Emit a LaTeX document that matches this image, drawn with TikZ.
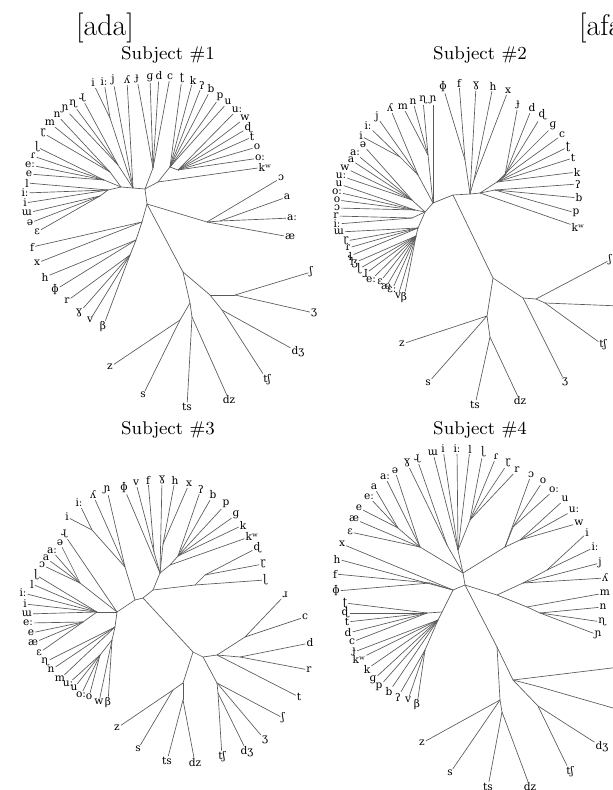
\documentclass[tikz,border=0pt]{standalone}
\usepackage{fontspec}
\newfontfamily\ipafont{DejaVu Serif}

\begin{document}
\begin{tikzpicture}[x=0.5pt,y=-0.5pt,
    br/.style={draw=black!65,line width=0.33pt},
    leaf/.style={font=\ipafont\fontsize{5.3}{6}\selectfont,inner sep=0.4pt},
    subj/.style={font=\fontsize{9.2}{11}\selectfont},
    word/.style={font=\fontsize{15}{18}\selectfont}]
  \useasboundingbox (0,0) rectangle (613,790);
  \clip (0,0) rectangle (613,790);

  \node[word] (ada) at (105,28) {[ada]};
  \node[word,anchor=west] (afa) at (572,28) {[afa]};
  \node[subj] (t1) at (168,55) {Subject \#1};
  \node[subj] (t2) at (480,55) {Subject \#2};
  \node[subj] (t3) at (168,430) {Subject \#3};
  \node[subj] (t4) at (480,430) {Subject \#4};

  % subject 1
  \foreach \n/\x/\y in {a1/147/204, a2/145/189, a3/133/188, a4/121/187, a5/108/190,
      a6/100/196, a7/104/180, a9/118/165, a10/110/172, a11/110/118, a13/153/168,
      a14/170/167, a15/178/170, a16/158/182, b1/142/222, b2/136/240, b3/130/255,
      c1/207/222, c2/220/221, d1/183/272, d2/210/295, d3/235/295, d4/222/310,
      d5/190/303, d6/180/320, d7/192/317}
    \coordinate (\n) at (\x,\y);
  \foreach \a/\b in {a1/a2, a2/a3, a3/a4, a4/a5, a5/a6, a4/a7, a3/a9, a4/a10, a3/a11,
      a2/a13, a2/a16, a16/a14, a14/a15, a1/b1, b1/b2, b2/b3, a1/c1, c1/c2, a1/d1,
      d1/d2, d2/d3, d2/d4, d1/d5, d5/d6, d5/d7}
    \draw[br] (\a) -- (\b);
  \foreach \lab/\x/\y/\p [count=\i] in {
      i/93/83/a11, iː/104/82/a11, j/113/80/a3, ʎ/127/80/a3, ɟ/137/79/a13, ɡ/150/78/a13,
      d/159/76/a13, c/170/77/a13, ʈ/182/78/a14, k/193/80/a14, ʔ/202/85/a14, b/211/89/a14,
      p/220/97/a14, u/228/102/a14, uː/237/110/a15, w/245/118/a15, ɖ/248/128/a15,
      t/252/137/a15, o/257/147/a15, oː/260/158/a15, kʷ/265/167/a16,
      ɻ/82/98/a9, ɳ/73/104/a9, ɲ/65/109/a9, n/57/115/a10, m/50/123/a10, ɽ/43/133/a10,
      ɭ/37/147/a7, ɾ/33/156/a7, eː/30/165/a7, e/29/174/a7, l/27/183/a5, iː/25/193/a5,
      i/25/203/a5, ɯ/27/213/a6, ə/30/223/a6, ɛ/37/232/a6,
      f/32/247/b1, x/37/263/b1, h/45/277/b2, ɸ/55/290/b2, r/67/301/b3, ɣ/79/313/b3,
      v/90/320/b3, β/103/327/b3,
      ɔ/281/178/c1, a/287/197/c2, aː/292/218/c2, æ/290/237/c1,
      ʃ/311/272/d3, ʒ/314/313/d3, dʒ/298/352/d4, tʃ/267/380/d4, z/110/367/d6,
      s/143/395/d6, ts/187/407/d7, dz/229/400/d7}
    {\node[leaf] (A\i) at (\x,\y) {\lab};
     \draw[br] (\p) -- (A\i);}

  % subject 2
  \foreach \n/\x/\y in {e1/453/195, e2/470/194, e3/480/193, e4/465/160, e5/474/180,
      e6/497/182, e7/505/175, e8/495/190, e9/433/203, e10/425/212, e11/428/155,
      e12/400/157, e13/418/175, e14/412/200, e15/415/210, e16/412/218, e17/418/228,
      e18/416/236, g1/493/278, g2/523/298, g3/536/299, g4/545/303, g5/487/316,
      g6/490/337, g7/620/306}
    \coordinate (\n) at (\x,\y);
  \foreach \a/\b in {e1/e2, e2/e3, e4/e2, e5/e2, e7/e6, e6/e3, e8/e3, e1/e9, e9/e10,
      e11/e9, e12/e13, e13/e9, e14/e10, e15/e10, e16/e10, e17/e10, e18/e17, e1/g1,
      g1/g2, g2/g3, g3/g4, g4/g7, g1/g5, g5/g6}
    \draw[br] (\a) -- (\b);
  \foreach \lab/\x/\y/\p [count=\i] in {
      ɸ/443/87/e4, f/459/83/e4, ɣ/476/86/e2, h/493/86/e5, x/508/91/e5, ɟ/518/105/e7,
      d/532/108/e7, ɖ/542/115/e7, ɡ/553/126/e6, c/562/135/e6, ʈ/568/147/e6,
      t/573/158/e6, k/577/172/e6, ʔ/578/184/e8, b/579/198/e8, p/576/213/e8,
      kʷ/578/227/e3,
      ɲ/433/100/e9, ɳ/423/100/e11, n/413/102/e11, m/403/107/e11, ʎ/390/108/e13,
      j/377/117/e13, iː/368/126/e12, i/361/136/e12,
      ə/363/145/e14, aː/355/153/e14, a/351/160/e14, w/345/168/e14, uː/341/176/e14,
      u/339/184/e15, oː/337/192/e15, o/337/200/e15, ɔ/337/208/e15, r/336/216/e16,
      iː/337/224/e16, ɯ/339/232/e17, ɽ/346/241/e17, ɾ/348/248/e17, ɬ/350/256/e17,
      ɮ/354/263/e18, ɭ/359/269/e18, ɺ/365/274/e18, eː/371/280/e18, ɛ/380/282/e18,
      æ/386/287/e18, ɛː/392/290/e18, v/398/296/e18, β/404/298/e18,
      ʃ/610/260/g3, ʒ/565/382/g2, tʃ/603/345/g4, z/402/344/g5, s/428/383/g5,
      ts/475/405/g6, dz/520/401/g6}
    {\node[leaf] (B\i) at (\x,\y) {\lab};
     \draw[br] (\p) -- (B\i);}

  % subject 3
  \foreach \n/\x/\y in {h1/135/600, h2/143/598, h3/153/590, h5/160/573, h6/170/565,
      h7/195/585, h8/205/575, h9/154/552, h10/163/544, h11/178/556, h12/125/567,
      h13/92/530, h14/117/612, h15/80/583, h16/97/612, h17/83/622, h18/115/627,
      h19/112/640, h20/100/655, i1/193/652, i2/203/657, i3/217/655, i4/245/637,
      i5/240/657, i6/217/683, i7/218/693, i8/183/683, i9/173/690, i10/183/700}
    \coordinate (\n) at (\x,\y);
  \foreach \a/\b in {h1/h2, h2/h3, h3/h5, h5/h6, h3/h7, h7/h8, h9/h5, h10/h5, h11/h6,
      h12/h1, h13/h12, h14/h1, h15/h14, h16/h14, h17/h16, h18/h14, h19/h18, h20/h19,
      h2/i1, i1/i2, i2/i3, i3/i4, i3/i5, i2/i6, i6/i7, i1/i8, i8/i9, i8/i10}
    \draw[br] (\a) -- (\b);
  \foreach \lab/\x/\y/\p [count=\i] in {
      ʎ/93/495/h12, ɲ/107/490/h12, ɸ/124/488/h5, v/136/483/h9, f/148/480/h9,
      ɣ/162/480/h5, h/175/480/h10, x/189/484/h10, ʔ/201/489/h11, b/213/495/h11,
      p/226/504/h11, ɡ/236/515/h11, k/243/525/h11, kʷ/252/536/h6, ɖ/257/548/h8,
      ɽ/263/564/h8, ɭ/265/580/h7,
      iː/79/503/h13, i/67/517/h13, ɻ/64/534/h14, ə/60/543/h15, aː/52/551/h15,
      a/46/558/h15, ɔ/42/565/h15, ɭ/36/575/h16, l/32/584/h16, iː/23/593/h16,
      i/25/604/h16, ɯ/27/614/h16, eː/28/623/h17, e/31/633/h17, æ/33/643/h17,
      ɛ/39/653/h17, ɳ/45/662/h18, n/51/670/h18, m/60/679/h18, uː/68/684/h20,
      u/74/688/h20, oː/81/695/h20, o/89/697/h20, w/99/702/h19, β/108/703/h19,
      ɹ/285/595/i4, c/305/617/i4, d/310/643/i5, r/309/670/i5, t/299/697/i3,
      ʃ/283/718/i6, ʒ/265/740/i6, dʒ/247/752/i7, tʃ/222/757/i7, dz/195/763/i10,
      ts/167/761/i10, s/138/749/i9, z/117/728/i9}
    {\node[leaf] (C\i) at (\x,\y) {\lab};
     \draw[br] (\p) -- (C\i);}

  % subject 4
  \foreach \n/\x/\y in {j1/463/573, j2/465/585, j3/458/550, j5/470/520, j6/447/545,
      j7/420/547, j8/398/528, j10/505/547, j11/513/527, j12/520/540, j13/497/595,
      j14/523/583, j15/547/570, j16/527/607, j17/540/613, j18/453/590, j19/430/583,
      j20/442/612, j21/427/613, j22/438/620, j23/425/650, k1/497/647, k2/500/700,
      k4/502/712, k5/513/680, k6/540/687, k7/538/706, r1/620/667, r2/620/710}
    \coordinate (\n) at (\x,\y);
  \foreach \a/\b in {j1/j2, j3/j1, j5/j3, j6/j1, j7/j1, j8/j7, j10/j1, j11/j10,
      j12/j10, j2/j13, j13/j14, j14/j15, j13/j16, j16/j17, j2/j18, j18/j19, j18/j20,
      j20/j21, j20/j22, j22/j23, j2/k1, k1/k2, k2/k4, k1/k5, k5/r1, k5/k6, k6/r2,
      k5/k7}
    \draw[br] (\a) -- (\b);
  \foreach \lab/\x/\y/\p [count=\i] in {
      ɯ/433/453/j3, i/443/449/j3, iː/457/449/j3, l/470/449/j3, ɭ/483/452/j5,
      ɾ/496/457/j5, ɽ/508/463/j5, r/517/470/j5, ɔ/531/475/j10, o/543/481/j11,
      oː/554/490/j11, u/565/499/j12, uː/574/510/j12, w/579/523/j12, i/587/533/j15,
      iː/595/547/j15, j/600/563/j14, ʎ/605/578/j14, m/605/593/j16, n/603/607/j17,
      ɳ/602/622/j17, ɲ/598/635/j17,
      ɻ/417/459/j6, ɣ/407/463/j6, ə/395/471/j7, aː/385/477/j7, a/374/487/j8,
      eː/369/497/j8, e/359/508/j8, æ/354/519/j7, ɛ/350/532/j7, x/342/544/j18,
      h/337/559/j18, f/335/574/j19, ɸ/336/591/j19,
      ʈ/345/603/j21, ɖ/345/613/j21, t/347/622/j21, d/348/633/j21, c/352/642/j21,
      ɟ/354/652/j22, kʷ/359/659/j22, k/367/669/j22, ɡ/373/680/j22, p/379/687/j22,
      b/389/692/j22, ʔ/398/697/j23, v/408/700/j23, β/417/705/j23,
      z/422/743/k2, s/450/773/k2, ts/488/787/k4, dz/530/787/k4, tʃ/570/772/k7,
      dʒ/602/747/k7}
    {\node[leaf] (D\i) at (\x,\y) {\lab};
     \draw[br] (\p) -- (D\i);}
\end{tikzpicture}
\end{document}
